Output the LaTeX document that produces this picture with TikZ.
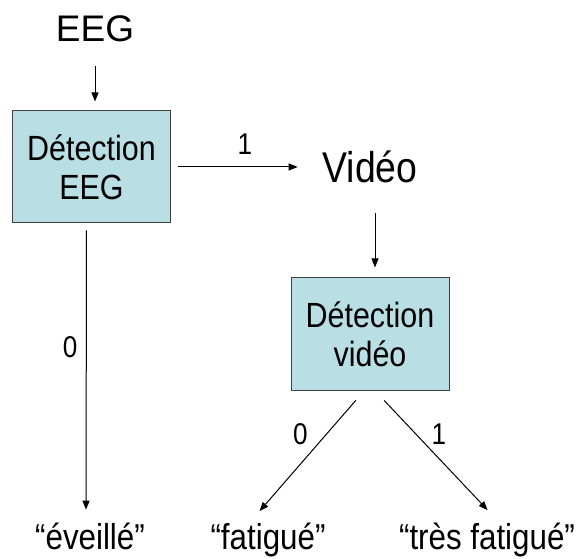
\documentclass[tikz,border=0pt]{standalone}
\usepackage{fontspec}
\setmainfont{Liberation Sans}
\newfontfamily\tallsans{Liberation Sans}[FakeStretch=0.87]
\usetikzlibrary{arrows.meta,positioning}
\definecolor{boxblue}{RGB}{185,223,228}

\begin{document}
\begin{tikzpicture}[x=1pt,y=1pt,line width=1pt,>={Triangle[length=9pt,width=7pt]},
 box/.style={draw=black!75,fill=boxblue,align=center,minimum width=158pt,
 minimum height=112pt,font=\tallsans\fontsize{35}{39}\selectfont},
 big/.style={anchor=base,font=\fontsize{37}{40}\selectfont},
 vbig/.style={anchor=base,font=\tallsans\fontsize{43}{46}\selectfont},
 res/.style={anchor=base,font=\tallsans\fontsize{36}{40}\selectfont},
 num/.style={font=\tallsans\fontsize{30}{32}\selectfont}]
\useasboundingbox (0,0) rectangle (579,558);
\node[big] (eeg) at (95,516) {EEG};
\node[box] (deeg) at (91.5,391) {Détection\\EEG};
\node[vbig] (vid) at (370,375) {Vidéo};
\node[box] (dvid) at (370,224) {Détection\\vidéo};
\node[res] (ev) at (90,9) {“éveillé”};
\node[res] (fa) at (268,9) {“fatigué”};
\node[res] (tf) at (487,9) {“très fatigué”};
\draw[->,shorten <=20pt,shorten >=9pt] (eeg.south) -- (eeg.south |- deeg.north);
\draw[->,shorten <=7pt,shorten >=21pt] (deeg.east) -- (deeg.east -| vid.west)
 node[num,midway,above=9pt]{1};
\draw[->,shorten <=26pt,shorten >=10pt] ([xshift=5pt]vid.south) -- ([xshift=5pt]dvid.north);
\draw[->,shorten <=7pt,shorten >=9pt] ([xshift=-5pt]deeg.south) -- ([xshift=-4pt]ev.north)
 node[num,pos=0.42,left=5pt]{0};
\draw[->,shorten <=13pt,shorten >=10pt] ([xshift=-5.6pt]dvid.south) -- ([xshift=-15pt]fa.north)
 node[num,pos=0.34,left=15pt]{0};
\draw[->,shorten <=13.6pt,shorten >=11.8pt] ([xshift=4.8pt]dvid.south) -- ([xshift=8.7pt]tf.north)
 node[num,pos=0.34,right=12pt]{1};
\end{tikzpicture}
\end{document}
